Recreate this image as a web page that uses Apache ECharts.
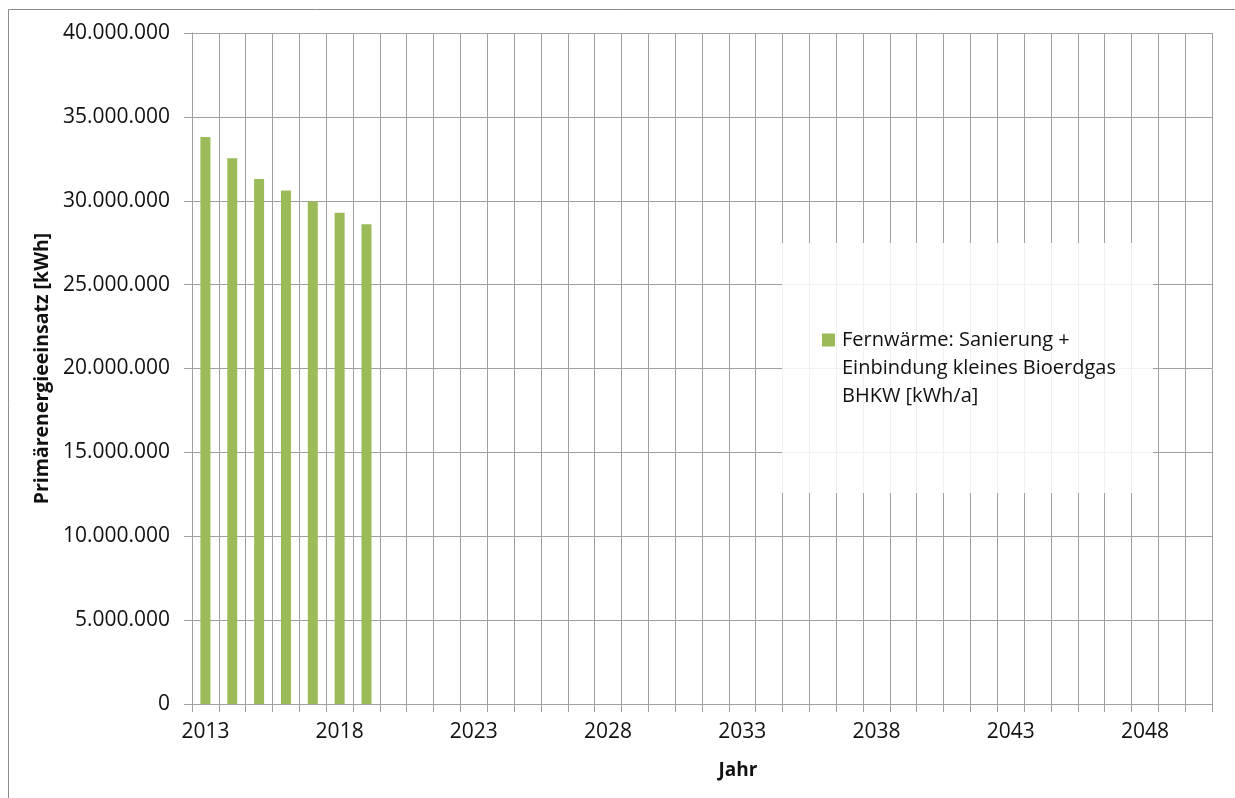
<!DOCTYPE html>
<html>
<head>
<meta charset="utf-8">
<script src="https://cdn.jsdelivr.net/npm/echarts@6/dist/echarts.min.js"></script>
<style>
html,body{margin:0;padding:0;background:#fff;}
#chart{width:1235px;height:798px;}
</style>
</head>
<body>
<div id="chart"></div>
<script>
const years = [];
for (let y = 2013; y <= 2050; y++) years.push(String(y));
const seriesName = 'Fernwärme: Sanierung +\nEinbindung kleines Bioerdgas\nBHKW [kWh/a]';
const values = [33800000, 32540000, 31290000, 30610000, 29960000, 29280000, 28600000];
const yMin = 0, yMax = 40000000, yStep = 5000000;
const xAxisTitle = 'Jahr';
const yAxisTitle = 'Primärenergieeinsatz [kWh]';

const FONT = '"Open Sans", "Noto Sans", sans-serif';
const gridColor = '#a0a0a0';
const textColor = '#111';
const chart = echarts.init(document.getElementById('chart'), null, {renderer: 'canvas'});
function fmt(v){ return String(v).replace(/\B(?=(\d{3})+(?!\d))/g, '.'); }

chart.setOption({
  backgroundColor: '#fff',
  animation: false,
  graphic: [
    {type: 'rect', z: -10, shape: {x: 8.5, y: 9.5, width: 1240, height: 800},
     style: {fill: 'none', stroke: '#8c8c8c', lineWidth: 1}},
    {type: 'rect', z: 3, shape: {x: 782, y: 243, width: 371, height: 250},
     style: {fill: 'rgba(255,255,255,0.85)'}}
  ],
  grid: {left: 192, right: 23, top: 33, bottom: 94, containLabel: false},
  legend: {
    show: true, z: 6,
    left: 822, top: 326, padding: 0,
    orient: 'vertical',
    itemWidth: 13, itemHeight: 69, itemGap: 0,
    icon: 'path://M0,0L13,0L13,13L0,13Z M0,69L13,69L13,69Z',
    textStyle: {fontFamily: FONT, fontSize: 20, color: textColor, lineHeight: 28, padding: [0,0,0,2]},
    data: [seriesName]
  },
  xAxis: {
    type: 'category', data: years, boundaryGap: true,
    name: xAxisTitle, nameLocation: 'middle', nameGap: 57,
    nameTextStyle: {fontFamily: FONT, fontSize: 19, fontWeight: 'bold', color: textColor, padding: [0,0,0,72]},
    axisLine: {show: true, lineStyle: {color: gridColor, width: 1}},
    axisTick: {show: true, interval: 0, length: 8, lineStyle: {color: gridColor}},
    axisLabel: {interval: 4, margin: 18, fontFamily: FONT, fontSize: 21, color: textColor},
    splitLine: {show: true, interval: 0, lineStyle: {color: gridColor, width: 1}}
  },
  yAxis: {
    type: 'value', min: yMin, max: yMax, interval: yStep,
    name: yAxisTitle, nameLocation: 'middle', nameGap: 133, nameRotate: 90,
    nameTextStyle: {fontFamily: FONT, fontSize: 19.5, fontWeight: 'bold', color: textColor},
    axisLine: {show: true, lineStyle: {color: gridColor, width: 1}},
    axisTick: {show: true, length: 8, lineStyle: {color: gridColor}},
    axisLabel: {margin: 22, fontFamily: FONT, fontSize: 21, color: textColor, formatter: fmt},
    splitLine: {show: true, lineStyle: {color: gridColor, width: 1}}
  },
  series: [{
    name: seriesName, type: 'bar', data: values, barWidth: 10,
    itemStyle: {color: '#9bbb59'}
  }]
});
</script>
</body>
</html>
